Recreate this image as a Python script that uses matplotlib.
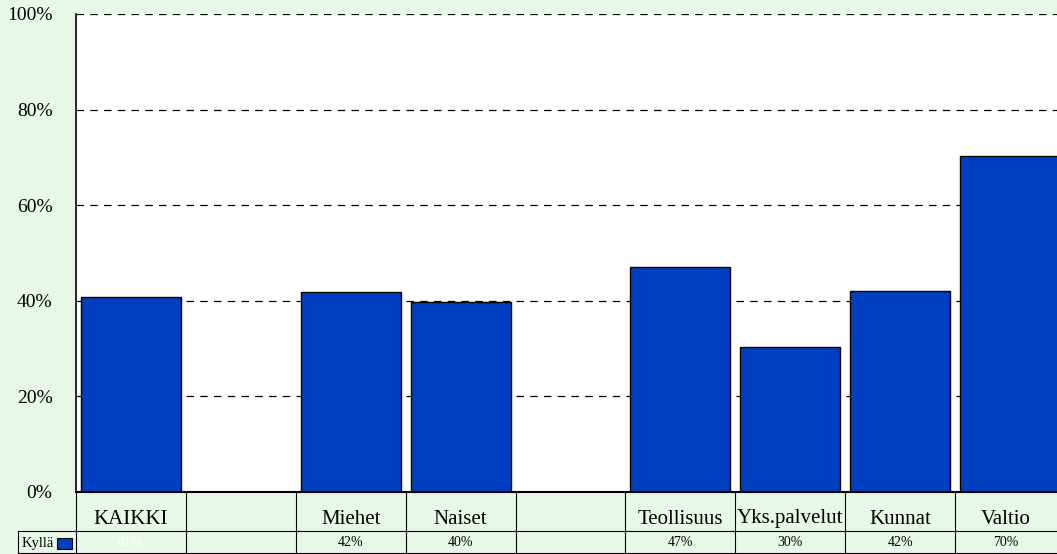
import matplotlib
matplotlib.use("Agg")
import matplotlib.pyplot as plt
from matplotlib.lines import Line2D
from matplotlib.patches import Rectangle

categories = ["KAIKKI", "", "Miehet", "Naiset", "", "Teollisuus", "Yks.palvelut", "Kunnat", "Valtio"]
values = [40.8, None, 41.8, 39.7, None, 47.1, 30.3, 42.0, 70.3]
value_labels = ["41%", "", "42%", "40%", "", "47%", "30%", "42%", "70%"]
series_name = "Kyllä"
yticks = [0, 20, 40, 60, 80, 100]

W, H = 1057, 554
BG = "#E8F8E8"
BAR = "#0040C0"
plt.rcParams["font.family"] = ["Liberation Serif", "DejaVu Serif"]

slot = 109.9
left_px = 76
right_px = left_px + slot * len(categories)

fig = plt.figure(figsize=(W / 100, H / 100), dpi=100, facecolor=BG)
ax = fig.add_axes([left_px / W, (H - 492) / H, (right_px - left_px) / W, (492 - 14) / H])
ax.set_facecolor("white")

xs = [i for i, v in enumerate(values) if v is not None]
hs = [v for v in values if v is not None]
ax.bar(xs, hs, width=0.91, color=BAR, edgecolor="black", linewidth=1, zorder=3)

ax.set_xlim(-0.5, len(categories) - 0.5)
ax.set_ylim(0, 100)
ax.set_yticks(yticks)
ax.set_yticklabels([f"{t}%" for t in yticks], fontsize=14)
ax.tick_params(axis="y", length=0, pad=17)
ax.set_xticks([])
for t in yticks[1:]:
    ax.axhline(t, color="black", linestyle=(0, (6, 5)), linewidth=0.9, zorder=1)
for s in ["top", "right"]:
    ax.spines[s].set_visible(False)
ax.spines["left"].set_linewidth(1.2)
ax.spines["bottom"].set_linewidth(1.5)
ax.spines["bottom"].set_zorder(5)

# table drawn in figure pixel coordinates (y measured from top)
def fx(px):
    return px / W

def fy(py):
    return (H - py) / H

row1_top, row1_bot, row2_bot = 492, 531, 553
lw = 0.8
fig.add_artist(Line2D([fx(18), fx(W)], [fy(row1_bot), fy(row1_bot)], color="black", lw=lw))
fig.add_artist(Line2D([fx(18), fx(W)], [fy(row2_bot), fy(row2_bot)], color="black", lw=lw))
fig.add_artist(Line2D([fx(18), fx(18)], [fy(row1_bot), fy(row2_bot)], color="black", lw=lw))
for i in range(len(categories) + 1):
    x = left_px + i * slot
    if x > W:
        continue
    fig.add_artist(Line2D([fx(x), fx(x)], [fy(row1_top), fy(row2_bot)], color="black", lw=lw))

for i, (c, lab) in enumerate(zip(categories, value_labels)):
    cx = left_px + (i + 0.5) * slot
    if i == len(categories) - 1:
        cx = (left_px + i * slot + W) / 2
    fig.text(fx(cx), fy(519), c, ha="center", va="center", fontsize=15)
    col = "white" if i == 0 else "black"
    fig.text(fx(cx), fy(543), lab, ha="center", va="center", fontsize=10, color=col)

fig.text(fx(22), fy(543), series_name, ha="left", va="center", fontsize=10.5)
fig.add_artist(Rectangle((fx(57), fy(549)), fx(15), (11 / H), transform=fig.transFigure,
                         facecolor=BAR, edgecolor="black", lw=0.8))

fig.savefig("out.png", dpi=100, facecolor=BG)
